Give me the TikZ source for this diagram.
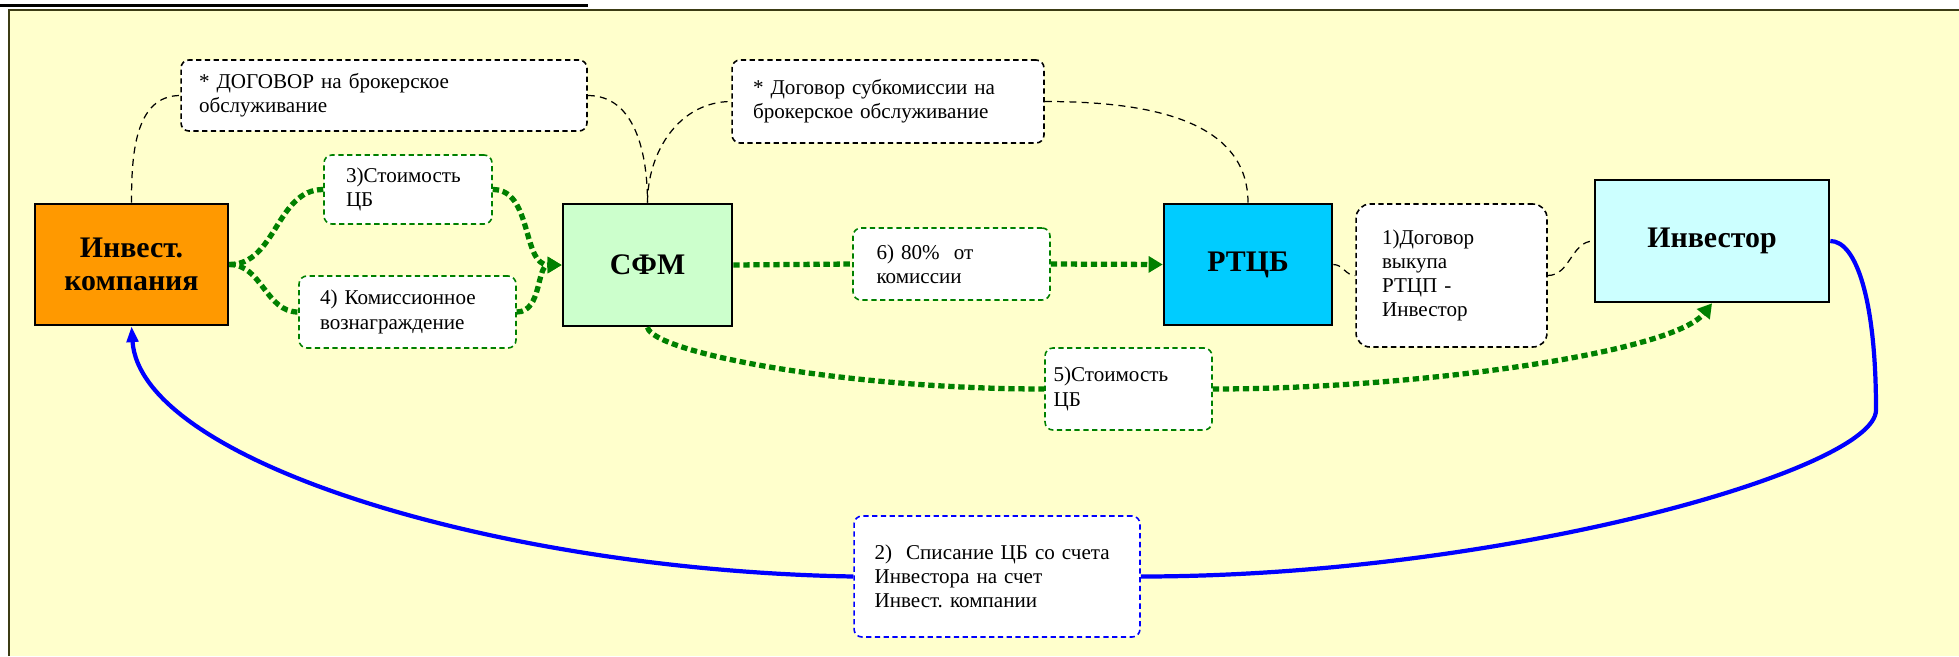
\documentclass[tikz,border=0pt]{standalone}
\usepackage{fontspec}
\setmainfont{Liberation Serif}
\usetikzlibrary{arrows.meta,positioning}
\frenchspacing

\definecolor{panelbg}{HTML}{FFFFCC}
\definecolor{paneledge}{HTML}{3C3C14}
\definecolor{orng}{HTML}{FF9900}
\definecolor{mint}{HTML}{CCFFCC}
\definecolor{sky}{HTML}{00CCFF}
\definecolor{pale}{HTML}{CCFFFF}
\definecolor{dgreen}{HTML}{008000}

\tikzset{
	party/.style={draw, line width=1.5pt, align=center, font=\fontsize{17}{19}\selectfont\bfseries},
	note/.style={draw, fill=white, line width=0.9pt, dash pattern=on 3pt off 2pt, rounded corners=4.5pt, align=left, inner sep=0pt, font=\fontsize{12}{13.8}\selectfont},
	gnote/.style={note, draw=dgreen},
	bnote/.style={note, draw=blue},
	link/.style={line width=0.7pt, dash pattern=on 4pt off 3pt},
	flow/.style={dgreen, line width=3pt, dash pattern=on 3.6pt off 2.1pt},
	paid/.style={blue, line width=2.4pt},
	garrow/.style={-{Triangle[length=8pt,width=9pt]}},
}

\begin{document}
\begin{tikzpicture}[x=0.02cm, y=-0.02cm]
		\useasboundingbox (0,0) rectangle (1959,656);
		\fill[panelbg] (9,10) rectangle (1959,656);
		\draw[paneledge, line width=1.1pt] (9,656) -- (9,10) -- (1959,10);
		\draw[line width=1.7pt] (0,5.5) -- (588,5.5);

		\node[party, fill=orng, minimum width=3.86cm, minimum height=2.42cm] (ik) at (131.5,264.5) {Инвест.\\компания};
		\node[party, fill=mint, minimum width=3.38cm, minimum height=2.44cm] (sfm) at (647.5,265) {СФМ};
		\node[party, fill=sky, minimum width=3.36cm, minimum height=2.42cm] (rtcb) at (1248,264.5) {РТЦБ};
		\node[party, fill=pale, minimum width=4.68cm, minimum height=2.44cm] (inv) at (1712,241) {Инвестор};

		\node[note, minimum width=8.12cm, minimum height=1.42cm, text width=7.4cm] (dog1) at (384,95.5) {* ДОГОВОР на брокерское\\обслуживание};
		\node[note, minimum width=6.24cm, minimum height=1.66cm, text width=5.4cm] (dog2) at (888,101.5) {* Договор субкомиссии на\\брокерское обслуживание};
		\node[note, rounded corners=8pt, minimum width=3.82cm, minimum height=2.86cm, text width=2.78cm] (vyk) at (1451.5,275.5) {1)Договор\\выкупа\\РТЦП -\\Инвестор};

		\node[gnote, minimum width=3.36cm, minimum height=1.38cm, text width=2.48cm] (cost3) at (408,189.5) {3)Стоимость\\ЦБ};
		\node[gnote, minimum width=4.34cm, minimum height=1.44cm, text width=3.5cm] (fee4) at (407.5,312) {4) Комиссионное\\вознаграждение};
		\node[gnote, minimum width=3.94cm, minimum height=1.44cm, text width=3.0cm] (pct6) at (951.5,264) {6) 80\%\ \ от\\комиссии};
		\node[gnote, minimum width=3.34cm, minimum height=1.64cm, text width=3.0cm] (cost5) at (1128.5,389) {5)Стоимость\\ЦБ};
		\node[bnote, minimum width=5.72cm, minimum height=2.42cm, text width=4.9cm] (writeoff) at (997,576.5) {2)\ \ Списание ЦБ со счета\\Инвестора на счет\\Инвест. компании};

		\draw[link] (ik.north) to[out=90,in=180] (dog1.west);
		\draw[link] (dog1.east) to[out=0,in=90] (sfm.north);
		\draw[link] (sfm.north) to[out=90,in=180] (dog2.west);
		\draw[link] (dog2.east) to[out=0,in=90] (rtcb.north);
		\draw[link] (rtcb.east) to[out=0,in=180] (vyk.west);
		\draw[link] (vyk.east) to[out=0,in=180] (inv.west);

		\draw[flow] (ik.east) to[out=0,in=180] (cost3.west);
		\draw[flow] (ik.east) to[out=0,in=180] (fee4.west);
		\draw[flow, garrow] (cost3.east) to[out=0,in=180] (sfm.west);
		\draw[flow, garrow] (fee4.east) to[out=0,in=180] (sfm.west);
		\draw[flow] (sfm.east) -- (pct6.west);
		\draw[flow, garrow] (pct6.east) -- (rtcb.west);
		\draw[flow] (sfm.south) .. controls +(5,25) and +(-200,0) .. (cost5.west);
		\draw[flow, garrow] (cost5.east) .. controls +(200,0) and +(-40,50) .. (inv.south);

		\coordinate (turn) at (1876,410);
		\draw[paid] (inv.east) .. controls +(26,0) and +(0,-110) .. (turn) .. controls +(0,60) and +(360,0) .. (writeoff.east);
		\draw[paid, -{Triangle[length=9pt,width=6.5pt]}] (writeoff.west) .. controls +(-354,-6) and +(9,135) .. (ik.south);
\end{tikzpicture}
\end{document}
